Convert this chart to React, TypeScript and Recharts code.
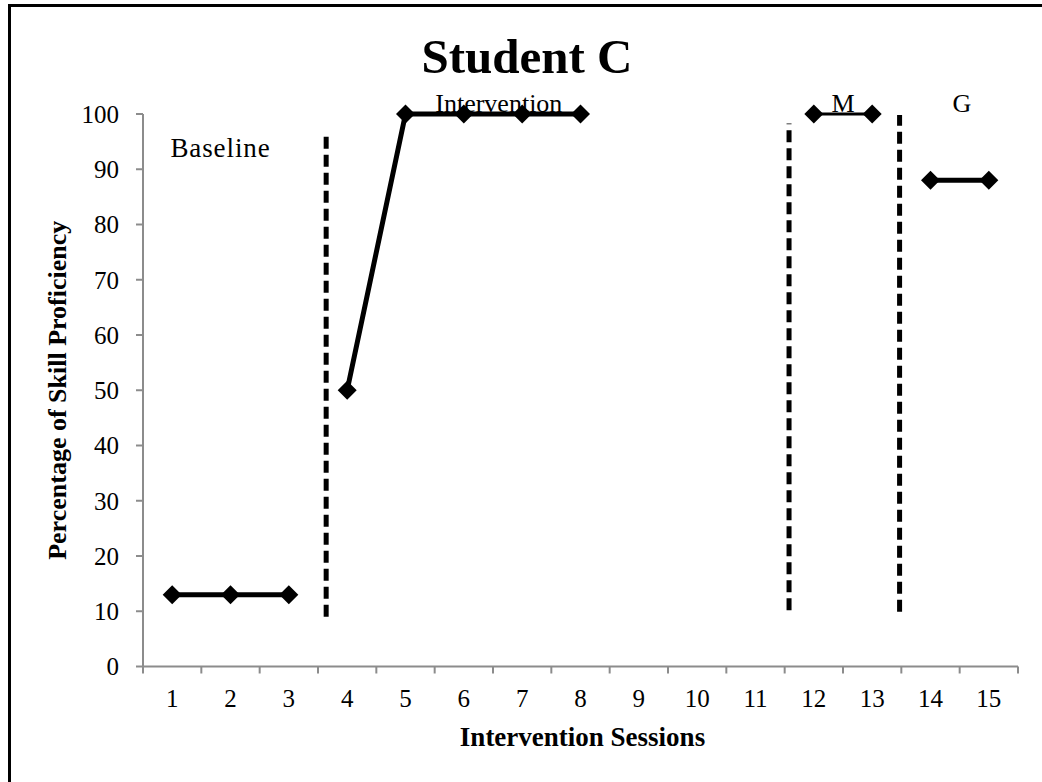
import React from 'react';
import {
  LineChart,
  Line,
  XAxis,
  YAxis,
  ReferenceLine,
  ReferenceDot,
  Customized,
} from 'recharts';

// ---- data ----
const sessions = [1, 2, 3, 4, 5, 6, 7, 8, 9, 10, 11, 12, 13, 14, 15];
const baselineValues = [13, 13, 13, null, null, null, null, null, null, null, null, null, null, null, null];
const interventionValues = [null, null, null, 50, 100, 100, 100, 100, null, null, null, null, null, null, null];
const maintenanceValues = [null, null, null, null, null, null, null, null, null, null, null, 100, 100, null, null];
const generalizationValues = [null, null, null, null, null, null, null, null, null, null, null, null, null, 88, 88];

const yTicks = [0, 10, 20, 30, 40, 50, 60, 70, 80, 90, 100];
const boundaryTicks = [0.5, 1.5, 2.5, 3.5, 4.5, 5.5, 6.5, 7.5, 8.5, 9.5, 10.5, 11.5, 12.5, 13.5, 14.5, 15.5];

// phase change lines (session position, bottom value, top value)
const phaseLineX = [3.64, 11.575, 13.47];
const phaseLineLow = [9, 10.2, 9.9];
const phaseLineHigh = [96.6, 98.3, 99.8];

// phase labels
const phaseLabels = ['Baseline', 'Intervention', 'M', 'G'];
const phaseLabelX = [0.97, 6.6, 12.5, 14.54];
const phaseLabelY = [92.3, 100, 100, 100];
const phaseLabelAnchor = ['start', 'middle', 'middle', 'middle'];

const title = 'Student C';
const xTitle = 'Intervention Sessions';
const yTitle = 'Percentage of Skill Proficiency';

const data = sessions.map((s, i) => ({
  session: s,
  baseline: baselineValues[i],
  intervention: interventionValues[i],
  maintenance: maintenanceValues[i],
  generalization: generalizationValues[i],
}));

const FONT = "'Liberation Serif', 'Times New Roman', serif";
const AXIS_GRAY = '#8c8c8c';

const Diamond = (props: any) => {
  const { cx, cy, value, index, dataKey } = props;
  if (cx == null || cy == null || value == null || Number.isNaN(cy)) {
    return <g key={`d-${dataKey}-${index}`} />;
  }
  const r = 9.5;
  return (
    <path
      key={`d-${dataKey}-${index}`}
      d={`M${cx},${cy - r}L${cx + r},${cy}L${cx},${cy + r}L${cx - r},${cy}Z`}
      fill="#000"
      stroke="none"
    />
  );
};

const YTitle = (props: any) => {
  const vb = props.viewBox || {};
  const cx = (vb.x ?? 0) + 57.5;
  const cy = (vb.y ?? 0) + (vb.height ?? 0) / 2;
  return (
    <text
      x={cx}
      y={cy}
      transform={`rotate(-90, ${cx}, ${cy})`}
      textAnchor="middle"
      dominantBaseline="central"
      fontFamily={FONT}
      fontWeight="bold"
      fontSize={26}
      fill="#000"
    >
      {yTitle}
    </text>
  );
};

const XTitle = (props: any) => {
  const vb = props.viewBox || {};
  const cx = (vb.x ?? 0) + (vb.width ?? 0) / 2 + 2;
  const y = (vb.y ?? 0) + 71;
  return (
    <text x={cx} y={y} textAnchor="middle" fontFamily={FONT} fontWeight="bold" fontSize={27} fill="#000">
      {xTitle}
    </text>
  );
};

const TitleText = () => (
  <text x={527} y={73} textAnchor="middle" fontFamily={FONT} fontWeight="bold" fontSize={49} fill="#000">
    {title}
  </text>
);

export default function App() {
  return (
    <>
      <div
        style={{
          position: 'absolute',
          left: 8,
          top: 4,
          width: 1034,
          height: 778,
          boxSizing: 'border-box',
          borderTop: '3px solid #000',
          borderLeft: '3px solid #000',
          background: '#fff',
        }}
      />
      <div style={{ position: 'absolute', left: 0, top: 0, width: 1042, height: 782 }}>
        <LineChart
          width={1042}
          height={782}
          data={data}
          margin={{ top: 114, right: 24, left: 0, bottom: 0 }}
        >
          <XAxis
            xAxisId="b"
            dataKey="session"
            type="number"
            domain={[0.5, 15.5]}
            ticks={boundaryTicks}
            interval={0}
            tickFormatter={() => ''}
            tickSize={7}
            height={8}
            axisLine={{ stroke: AXIS_GRAY, strokeWidth: 2 }}
            tickLine={{ stroke: AXIS_GRAY, strokeWidth: 2 }}
            allowDataOverflow
          />
          <XAxis
            xAxisId="l"
            dataKey="session"
            type="number"
            domain={[0.5, 15.5]}
            ticks={sessions}
            interval={0}
            axisLine={false}
            tickLine={false}
            tickSize={0}
            tickMargin={15}
            height={107.5}
            tick={{ fill: '#000', fontSize: 25, fontFamily: FONT }}
            label={{ content: XTitle }}
            allowDataOverflow
          />
          <YAxis
            type="number"
            domain={[0, 100]}
            ticks={yTicks}
            interval={0}
            width={143}
            tickSize={7}
            tickMargin={17}
            axisLine={{ stroke: AXIS_GRAY, strokeWidth: 2 }}
            tickLine={{ stroke: AXIS_GRAY, strokeWidth: 2 }}
            tick={{ fill: '#000', fontSize: 25, fontFamily: FONT }}
            label={{ content: YTitle }}
          />
          {phaseLineX.map((x, i) => (
            <ReferenceLine
              key={`pl-${i}`}
              xAxisId="b"
              segment={[
                { x, y: phaseLineLow[i] },
                { x, y: phaseLineHigh[i] },
              ]}
              stroke="#000"
              strokeWidth={5}
              strokeDasharray="12 6"
              ifOverflow="visible"
            />
          ))}
          <Line xAxisId="b" dataKey="baseline" stroke="#000" strokeWidth={5} dot={Diamond} activeDot={false} isAnimationActive={false} connectNulls={false} />
          <Line xAxisId="b" dataKey="intervention" stroke="#000" strokeWidth={5} dot={Diamond} activeDot={false} isAnimationActive={false} connectNulls={false} />
          <Line xAxisId="b" dataKey="maintenance" stroke="#000" strokeWidth={3} dot={Diamond} activeDot={false} isAnimationActive={false} connectNulls={false} />
          <Line xAxisId="b" dataKey="generalization" stroke="#000" strokeWidth={5} dot={Diamond} activeDot={false} isAnimationActive={false} connectNulls={false} />
          {phaseLabels.map((label, i) => (
            <ReferenceDot
              key={`lab-${i}`}
              xAxisId="b"
              x={phaseLabelX[i]}
              y={phaseLabelY[i]}
              ifOverflow="visible"
              shape={(p: any) => (
                <text
                  x={p.cx}
                  y={p.cy}
                  dy={i === 0 ? 0 : -2}
                  textAnchor={phaseLabelAnchor[i] as any}
                  fontFamily={FONT}
                  fontSize={i === 0 ? 27 : 26}
                  letterSpacing={i === 0 ? 0.9 : 0}
                  fill="#000"
                >
                  {label}
                </text>
              )}
            />
          ))}
          <Customized component={TitleText} />
        </LineChart>
      </div>
    </>
  );
}
